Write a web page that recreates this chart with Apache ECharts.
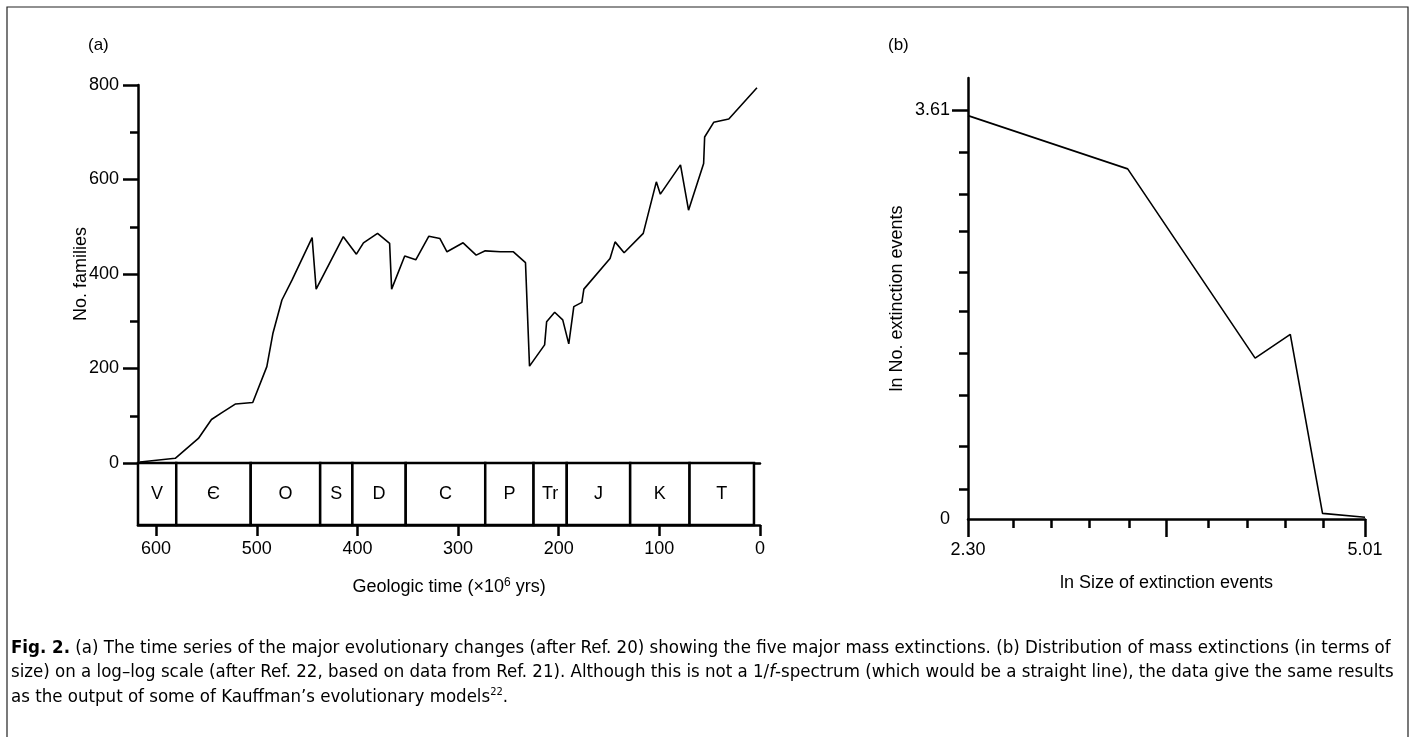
<!DOCTYPE html>
<html>
<head>
<meta charset="utf-8">
<script src="https://cdn.jsdelivr.net/npm/echarts@6/dist/echarts.min.js"></script>
<style>
html,body{margin:0;padding:0;background:#fff;}
#chart{width:1412px;height:737px;}
</style>
</head>
<body>
<div id="chart"></div>
<script>
// ---------- Panel (a) data ----------
const timeMa = [616, 581, 558, 545, 535, 521, 504, 490, 484, 475, 465, 445, 441, 414, 401, 394, 380, 368, 366, 353, 342, 329, 318, 311, 295, 282, 273, 258, 245, 233, 229, 214, 212, 204, 196, 190, 185, 177, 175, 149, 144, 135, 116, 103, 99, 79, 71, 56, 55, 46, 31, 3];
const families = [2, 10, 52, 92, 106, 125, 128, 204, 274, 345, 387, 477, 368, 479, 442, 466, 486, 465, 368, 438, 430, 480, 475, 447, 466, 440, 449, 447, 447, 424, 205, 250, 299, 319, 303, 252, 331, 340, 368, 433, 468, 445, 486, 595, 569, 631, 535, 634, 690, 721, 728, 794];
const periodLabels = ['V', '\u0404', 'O', 'S', 'D', 'C', 'P', 'Tr', 'J', 'K', 'T'];
const periodStart = [618, 580, 506, 437, 405, 352, 273, 225, 192, 129, 70];
const periodEnd   = [580, 506, 437, 405, 352, 273, 225, 192, 129, 70, 6];
const timeTicks = [600, 500, 400, 300, 200, 100, 0];

// ---------- Panel (b) data ----------
const lnSize  = [2.30, 3.39, 4.26, 4.50, 4.72, 5.01];
const lnCount = [3.56, 3.09, 1.42, 1.63, 0.05, 0.015];
const bLabelX = [2.30, 5.01];
const bLabelY = [0, 3.61];
const bMinorX = [2.607, 2.868, 3.131, 3.404, 3.938, 4.204, 4.465, 4.726];
const bMajorX = [2.30, 3.655, 5.01];
const bMinorY = [0.26, 0.64, 1.09, 1.46, 1.83, 2.18, 2.54, 2.87, 3.24];

const FONT = '"Liberation Sans", Arial, Helvetica, sans-serif';
const CAP_FONT = '"Liberation Sans Narrow", "DejaVu Sans Condensed", "Roboto Condensed", "Liberation Sans", sans-serif';
const CAP_SIZE = 18.5;
const BLACK = '#000';
const axisLineStyle = {color: BLACK, width: 2.5};

const chart = echarts.init(document.getElementById('chart'), null, {renderer: 'canvas'});

const option = {
  backgroundColor: '#fff',
  animation: false,
  textStyle: {fontFamily: FONT, color: BLACK},
  grid: [
    {left: 138, top: 85, width: 622, height: 378},
    {left: 138, top: 463, width: 622, height: 62},
    {left: 968, top: 78, width: 397, height: 441}
  ],
  xAxis: [
    {gridIndex: 0, type: 'value', inverse: true, min: 0, max: 618,
     axisLine: {show: true, onZero: false, lineStyle: axisLineStyle}, axisTick: {show: false},
     axisLabel: {show: false}, splitLine: {show: false}},
    {gridIndex: 1, type: 'value', inverse: true, min: 0, max: 618, position: 'bottom',
     axisLine: {show: true, onZero: false, lineStyle: axisLineStyle},
     axisTick: {show: true, inside: false, length: 11, lineStyle: {color: BLACK, width: 2.5}, customValues: timeTicks},
     axisLabel: {show: true, customValues: timeTicks, fontSize: 18, color: BLACK, margin: 15, fontFamily: FONT},
     splitLine: {show: false},
     name: 'Geologic time (\u00D710{sup|6} yrs)', nameLocation: 'middle', nameGap: 52,
     nameTextStyle: {fontSize: 18, color: BLACK, fontFamily: FONT,
       rich: {sup: {fontSize: 12, verticalAlign: 'top', padding: [0, 0, 9, 0], color: BLACK}}}},
    {gridIndex: 2, type: 'value', min: 2.30, max: 5.01, position: 'bottom',
     axisLine: {show: true, onZero: false, lineStyle: axisLineStyle},
     axisTick: {show: true, length: 18, lineStyle: {color: BLACK, width: 2.5}, customValues: bMajorX},
     axisLabel: {show: true, customValues: bLabelX, fontSize: 18, color: BLACK, margin: 22,
       formatter: v => Number(v).toFixed(2)},
     splitLine: {show: false},
     name: 'ln Size of extinction events', nameLocation: 'middle', nameGap: 55,
     nameTextStyle: {fontSize: 18, color: BLACK, fontFamily: FONT}},
    {gridIndex: 2, type: 'value', min: 2.30, max: 5.01, position: 'bottom',
     axisLine: {show: false, onZero: false},
     axisTick: {show: true, length: 9, lineStyle: {color: BLACK, width: 2.5}, customValues: bMinorX},
     axisLabel: {show: false}, splitLine: {show: false}}
  ],
  yAxis: [
    {gridIndex: 0, type: 'value', min: 0, max: 800, interval: 200, position: 'left',
     axisLine: {show: true, onZero: false, lineStyle: axisLineStyle},
     axisTick: {show: true, length: 15, lineStyle: {color: BLACK, width: 2.5}},
     minorTick: {show: true, splitNumber: 2, length: 8, lineStyle: {color: BLACK, width: 2.5}},
     axisLabel: {fontSize: 18, color: BLACK, margin: 19},
     splitLine: {show: false},
     name: 'No. families', nameLocation: 'middle', nameGap: 48, nameMoveOverlap: false,
     nameTextStyle: {fontSize: 18, color: BLACK}},
    {gridIndex: 1, type: 'value', min: 0, max: 1, show: false},
    {gridIndex: 2, type: 'value', min: 0, max: 3.892, position: 'left',
     axisLine: {show: true, onZero: false, lineStyle: axisLineStyle},
     axisTick: {show: true, length: 16, lineStyle: {color: BLACK, width: 2.5}, customValues: [3.61]},
     axisLabel: {show: true, customValues: bLabelY, fontSize: 18, color: BLACK, margin: 18,
       formatter: v => (v === 0 ? '0' : Number(v).toFixed(2))},
     splitLine: {show: false},
     name: 'ln No. extinction events', nameLocation: 'middle', nameGap: 62,
     nameTextStyle: {fontSize: 18, color: BLACK}},
    {gridIndex: 2, type: 'value', min: 0, max: 3.892, position: 'left',
     axisLine: {show: false, onZero: false},
     axisTick: {show: true, length: 9, lineStyle: {color: BLACK, width: 2.5}, customValues: bMinorY},
     axisLabel: {show: false}, splitLine: {show: false}}
  ],
  series: [
    {type: 'line', xAxisIndex: 0, yAxisIndex: 0, symbol: 'none',
     lineStyle: {color: BLACK, width: 1.6}, z: 3,
     data: timeMa.map((t, i) => [t, families[i]])},
    {type: 'custom', xAxisIndex: 1, yAxisIndex: 1, z: 4,
     data: periodStart.map((s, i) => [s, periodEnd[i]]),
     encode: {x: [0, 1]},
     renderItem: function (params, api) {
       const p0 = api.coord([api.value(0), 1]);
       const p1 = api.coord([api.value(1), 0]);
       return {type: 'group', children: [
         {type: 'rect', shape: {x: p0[0], y: p0[1], width: p1[0] - p0[0], height: p1[1] - p0[1]},
          style: {fill: '#fff', stroke: BLACK, lineWidth: 2.5}},
         {type: 'text', style: {text: periodLabels[params.dataIndex], x: (p0[0] + p1[0]) / 2, y: (p0[1] + p1[1]) / 2,
          align: 'center', verticalAlign: 'middle', fontSize: 18, fontFamily: FONT, fill: BLACK}}
       ]};
     }},
    {type: 'line', xAxisIndex: 2, yAxisIndex: 2, symbol: 'none',
     lineStyle: {color: BLACK, width: 1.6}, z: 3,
     data: lnSize.map((x, i) => [x, lnCount[i]])}
  ],
  graphic: [
    {type: 'polyline', silent: true, shape: {points: [[7, 737], [7, 7], [1408, 7], [1408, 737]]},
     style: {stroke: '#222', lineWidth: 1.2, fill: null}},
    {type: 'text', left: 88, top: 37, style: {text: '(a)', fontSize: 17, fontFamily: FONT, fill: BLACK}},
    {type: 'text', left: 888, top: 37, style: {text: '(b)', fontSize: 17, fontFamily: FONT, fill: BLACK}},
    {type: 'text', left: 11, top: 639, style: {
      text: '{b|Fig. 2.} (a) The time series of the major evolutionary changes (after Ref. 20) showing the five major mass extinctions. (b) Distribution of mass extinctions (in terms of',
      fontSize: CAP_SIZE, fontFamily: CAP_FONT, fill: BLACK,
      rich: {b: {fontWeight: 'bold', fontSize: CAP_SIZE, fontFamily: CAP_FONT, fill: BLACK}}}},
    {type: 'text', left: 11, top: 663, style: {
      text: 'size) on a log\u2013log scale (after Ref. 22, based on data from Ref. 21). Although this is not a 1/{i|f}-spectrum (which would be a straight line), the data give the same results',
      fontSize: CAP_SIZE, fontFamily: CAP_FONT, fill: BLACK,
      rich: {i: {fontStyle: 'italic', fontSize: CAP_SIZE, fontFamily: CAP_FONT, fill: BLACK}}}},
    {type: 'text', left: 11, top: 687, style: {
      text: 'as the output of some of Kauffman\u2019s evolutionary models{sup|22}.',
      fontSize: CAP_SIZE, fontFamily: CAP_FONT, fill: BLACK,
      rich: {sup: {fontSize: 11, fontFamily: CAP_FONT, fill: BLACK, verticalAlign: 'top', padding: [0, 0, 9, 0]}}}}
  ]
};
chart.setOption(option);
</script>
</body>
</html>
